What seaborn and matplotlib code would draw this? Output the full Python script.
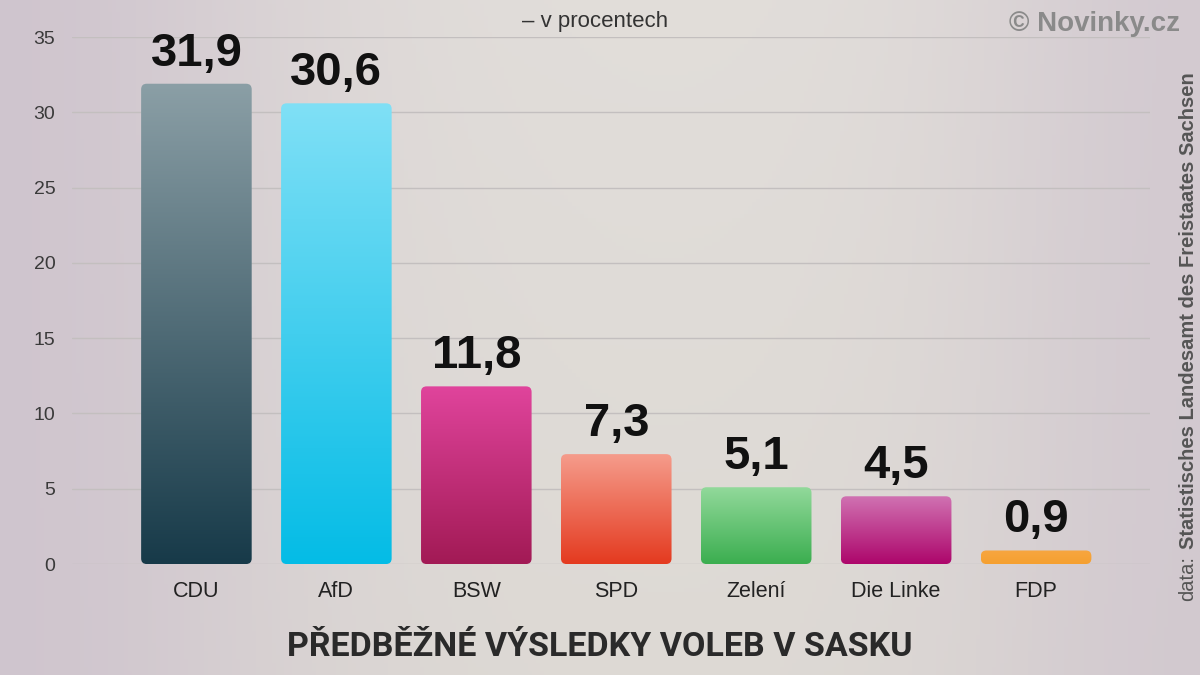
import numpy as np
import pandas as pd
import matplotlib
matplotlib.use("Agg")
import matplotlib.pyplot as plt
import seaborn as sns
from matplotlib.patches import FancyBboxPatch
from matplotlib.colors import LinearSegmentedColormap

# ===============================
# DATA
# ===============================
parties = ["CDU", "AfD", "BSW", "SPD", "Zelení", "Die Linke", "FDP"]
results = [31.9, 30.6, 11.8, 7.3, 5.1, 4.5, 0.9]
top_colors = ["#8b9fa6", "#80e0f6", "#e0449c", "#f59c8c", "#92d99b", "#d072b2", "#f7a640"]
bottom_colors = ["#173a49", "#04bce6", "#a21a55", "#e43a1f", "#3bae4f", "#ad066b", "#f5a030"]
yticks = [0, 5, 10, 15, 20, 25, 30, 35]

df = pd.DataFrame({"party": parties, "value": results})

# ===============================
# FIGURE + BACKGROUND
# ===============================
sns.set_theme(style="white")
plt.rcParams["font.family"] = ["Liberation Sans", "DejaVu Sans"]

fig = plt.figure(figsize=(12, 6.75), dpi=100)

bg = fig.add_axes([0, 0, 1, 1], zorder=-10)
gx = np.linspace(0, 1, 300)
gy = np.linspace(0, 1, 170)
X, Y = np.meshgrid(gx, gy)
edge = np.exp(-((X - 0.0) / 0.25) ** 2) + 0.8 * np.exp(-((X - 1.0) / 0.2) ** 2)
c_mid = np.array([0.885, 0.870, 0.855])
c_edge = np.array([0.815, 0.775, 0.810])
c_bot = np.array([0.845, 0.830, 0.800])
img = c_mid[None, None, :] * np.ones((170, 300, 3))
img = img * (1 - Y[..., None] * 0.4) + c_bot[None, None, :] * Y[..., None] * 0.4
w = np.clip(edge, 0, 1)[..., None]
img = img * (1 - w) + c_edge[None, None, :] * w
bg.imshow(img, extent=[0, 1, 0, 1], aspect="auto")
bg.set_axis_off()

# ===============================
# BAR CHART
# ===============================
ax = fig.add_axes([0.06, 0.1644, 0.898, 0.7807])
ax.patch.set_alpha(0)
sns.barplot(data=df, x="party", y="value", hue="party", palette=bottom_colors,
            width=0.79, legend=False, ax=ax, zorder=3)

ax.set_xlim(-0.889, 6.811)
ax.set_ylim(0, 35)
ax.set_yticks(yticks)
ax.grid(axis="y", color="#c3bfbf", linewidth=1, zorder=0)
ax.grid(axis="x", visible=False)
for s in ax.spines.values():
    s.set_visible(False)
ax.tick_params(axis="both", length=0)
ax.tick_params(axis="y", pad=12, labelsize=14, labelcolor="#3a3a3a")
ax.tick_params(axis="x", pad=12, labelsize=15.5, labelcolor="#222222")
ax.set_xlabel("")
ax.set_ylabel("")

# replace flat bars with rounded gradient bars
for i, bar in enumerate(ax.patches):
    x0, y0 = bar.get_x(), bar.get_y()
    bw, bh = bar.get_width(), bar.get_height()
    bar.set_visible(False)
    rounded = FancyBboxPatch((x0, y0), bw, bh,
                             boxstyle="round,pad=0,rounding_size=0.04",
                             mutation_aspect=9.3, facecolor="none",
                             edgecolor="none", transform=ax.transData)
    ax.add_patch(rounded)
    cmap = LinearSegmentedColormap.from_list("g", [bottom_colors[i], top_colors[i]])
    grad = np.linspace(0, 1, 256).reshape(-1, 1)
    im = ax.imshow(grad, cmap=cmap, origin="lower", aspect="auto",
                   extent=[x0, x0 + bw, y0, y0 + bh], zorder=3)
    im.set_clip_path(rounded)
    ax.annotate(f"{results[i]:.1f}".replace(".", ","),
                (x0 + bw / 2, y0 + bh), xytext=(0, 13), textcoords="offset points",
                ha="center", va="baseline", fontsize=34, fontweight="bold",
                color="#111111")

ax.set_xlim(-0.889, 6.811)
ax.set_ylim(0, 35)

# ===============================
# TEXTS
# ===============================
fig.text(0.5, 1 - 647 / 675, "PŘEDBĚŽNÉ VÝSLEDKY VOLEB V SASKU", ha="center",
         va="center", fontsize=24.5, fontweight="bold", color="#2a2a2a",
         family=["Roboto", "DejaVu Sans"])
fig.text(595 / 1200, 1 - 22 / 675, "– v procentech", ha="center", va="center",
         fontsize=16, color="#333333")
fig.text(1180 / 1200, 1 - 24 / 675, "© Novinky.cz", ha="right", va="center",
         fontsize=20, fontweight="bold", color="#8a8a8a")
fig.text(1188 / 1200, 1 - 601 / 675, "data:", rotation=90, ha="center",
         va="bottom", fontsize=14.5, color="#555555")
fig.text(1188 / 1200, 1 - 549 / 675, "Statistisches Landesamt des Freistaates Sachsen",
         rotation=90, ha="center", va="bottom", fontsize=14.5, fontweight="bold",
         color="#555555")

fig.savefig("out.png", dpi=100)
